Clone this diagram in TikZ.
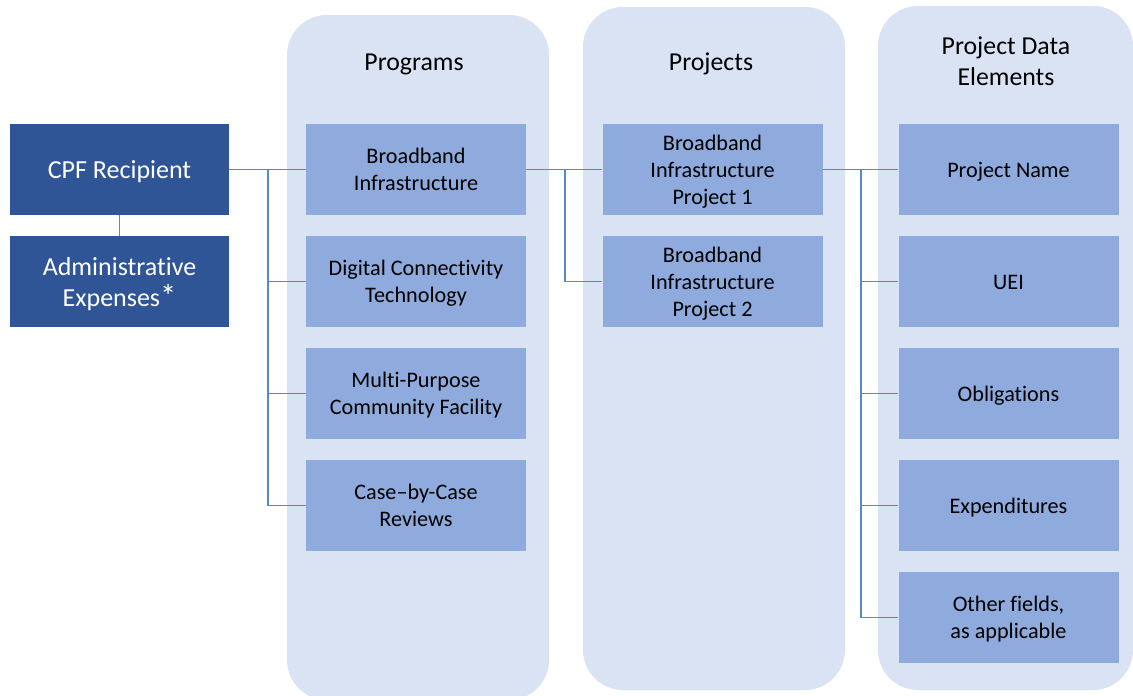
\documentclass[tikz,border=0pt]{standalone}
\usepackage{fontspec}
\setmainfont{Carlito}[Ligatures=CommonOff]
\definecolor{darkbox}{HTML}{2F5597}
\definecolor{midbox}{HTML}{8FAADC}
\definecolor{panel}{HTML}{DAE3F3}
\definecolor{wire}{HTML}{5B85D0}
% centred block of lines, lowered a little inside its box
\newcommand\boxlines[2]{\raisebox{-#1}[\height][\depth]{\begin{tabular}{@{}c@{}}#2\end{tabular}}}
\newcommand\toptext[1]{\boxlines{3.2pt}{#1}}
\newcommand\itemtext[1]{\boxlines{2.5pt}{#1}}
\begin{document}
\begin{tikzpicture}[x=1pt,y=-1pt,
  panelbg/.style={fill=panel,draw=none,rounded corners=40pt},
  topbox/.style={rectangle,fill=darkbox,draw=none,text=white,minimum width=219pt,minimum height=91pt,
    inner sep=0pt,font=\fontsize{26}{31}\selectfont},
  itembox/.style={rectangle,fill=midbox,draw=none,text=black,minimum width=220pt,minimum height=91pt,
    inner sep=0pt,font=\fontsize{22.2}{27}\selectfont},
  header/.style={align=center,text=black,font=\fontsize{25.8}{31}\selectfont},
  conn/.style={draw=wire,line width=1.1pt}]
\useasboundingbox (0,0) rectangle (1133,696);
\fill[white] (0,0) rectangle (1133,696);

% column panels
\path[panelbg] (287,15) rectangle (549,700);
\path[panelbg] (583,7) rectangle (845,690);
\path[panelbg] (878,6) rectangle (1133,690);

% column headings
\node[header] (hprog) at (414,64) {Programs};
\node[header] (hproj) at (711,64) {Projects};
\node[header] (hdata) at (1006,61) {Project Data\\Elements};

% recipient
\node[topbox] (cpf) at (119.5,169.5) {\toptext{CPF Recipient}};
\node[topbox] (admin) at (119.5,281.5)
  {\toptext{Administrative\\Expenses\raisebox{-1.5pt}{\scalebox{1.25}{*}}}};

% programs
\node[itembox] (prog1) at (416,169.5) {\itemtext{Broadband\\Infrastructure}};
\node[itembox] (prog2) at (416,281.5) {\itemtext{Digital Connectivity\\Technology}};
\node[itembox] (prog3) at (416,393.5) {\itemtext{Multi-Purpose\\Community Facility}};
\node[itembox] (prog4) at (416,505.5) {\itemtext{Case--by-Case\\Reviews}};

% projects
\node[itembox] (proj1) at (712.5,169.5) {\itemtext{Broadband\\Infrastructure\\Project 1}};
\node[itembox] (proj2) at (712.5,281.5) {\itemtext{Broadband\\Infrastructure\\Project 2}};

% project data elements
\node[itembox] (d1) at (1008.5,169.5) {\itemtext{Project Name}};
\node[itembox] (d2) at (1008.5,281.5) {\itemtext{UEI}};
\node[itembox] (d3) at (1008.5,393.5) {\itemtext{Obligations}};
\node[itembox] (d4) at (1008.5,505.5) {\itemtext{Expenditures}};
\node[itembox] (d5) at (1008.5,617.5) {\itemtext{Other fields,\\as applicable}};

% connectors
\coordinate (jprog) at (268,169.5);
\coordinate (jproj) at (565,169.5);
\coordinate (jdata) at (861,169.5);

\draw[conn] (cpf.south) -- (admin.north);
\draw[conn] (cpf.east) -- (prog1.west);
\draw[conn] (jprog) |- (prog2.west);
\draw[conn] (jprog) |- (prog3.west);
\draw[conn] (jprog) |- (prog4.west);

\draw[conn] (prog1.east) -- (proj1.west);
\draw[conn] (jproj) |- (proj2.west);

\draw[conn] (proj1.east) -- (d1.west);
\draw[conn] (jdata) |- (d2.west);
\draw[conn] (jdata) |- (d3.west);
\draw[conn] (jdata) |- (d4.west);
\draw[conn] (jdata) |- (d5.west);
\end{tikzpicture}
\end{document}
